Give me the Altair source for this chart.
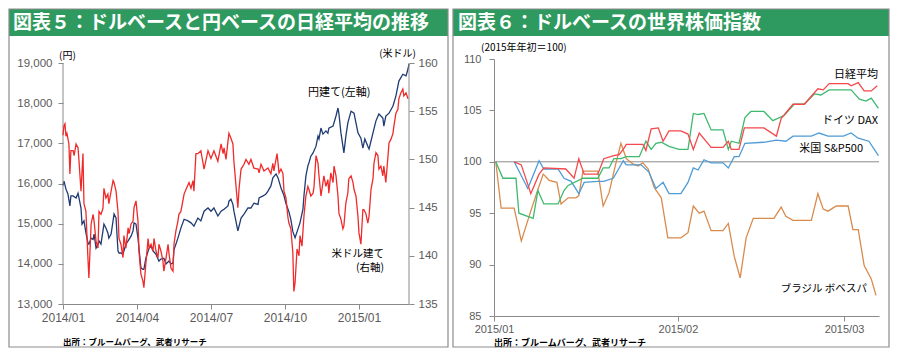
import altair as alt
import pandas as pd

# ---------------- Left panel (図表5) : x = months since 2014/01 ----------------
yen_month = [0, .04, .12, .20, .28, .32, .41, .53, .61, .73,
             .77, .85, .93, 1.01, 1.05, 1.14, 1.22, 1.26, 1.34, 1.42,
             1.46, 1.54, 1.62, 1.66, 1.74, 1.82, 1.86, 1.95, 2.03, 2.07,
             2.15, 2.23, 2.27, 2.35, 2.43, 2.47, 2.55, 2.64, 2.76, 2.84,
             2.88, 2.96, 3.04, 3.16, 3.24, 3.28, 3.36, 3.49, 3.57, 3.65,
             3.77, 3.89, 3.97, 4.09, 4.18, 4.30, 4.38, 4.46, 4.50, 4.66,
             4.78, 4.91, 5.07, 5.19, 5.31, 5.47, 5.59, 5.72, 5.88, 6.00,
             6.12, 6.28, 6.41, 6.53, 6.69, 6.73, 6.81, 6.89, 6.93, 7.01,
             7.09, 7.14, 7.22, 7.34, 7.50, 7.62, 7.74, 7.91, 7.95, 8.11,
             8.23, 8.31, 8.43, 8.51, 8.64, 8.72, 8.84, 8.96, 9.04, 9.16,
             9.24, 9.32, 9.41, 9.53, 9.61, 9.73, 9.77, 9.85, 9.93, 9.97,
             10.05, 10.14, 10.26, 10.34, 10.38, 10.46, 10.54, 10.66, 10.74, 10.78,
             10.95, 11.07, 11.15, 11.19, 11.27, 11.35, 11.39, 11.47, 11.55, 11.68,
             11.80, 11.88, 11.96, 12.08, 12.16, 12.24, 12.36, 12.41, 12.57, 12.69,
             12.81, 12.97, 13.01, 13.09, 13.22, 13.38, 13.50, 13.62, 13.78, 13.91,
             13.99, 14.03]
yen_value = [15950, 16060, 15860, 15740, 15440, 15690, 15690, 15640, 15760, 15390,
             14990, 15070, 14770, 14520, 14490, 14640, 14610, 14740, 14390, 14490,
             14570, 14490, 14820, 14990, 14890, 14770, 14640, 14740, 15070, 15240,
             15140, 14320, 14270, 14270, 14240, 14320, 14490, 14570, 14690, 14820,
             15020, 14990, 14640, 13900, 13860, 13860, 14140, 14390, 14440, 14320,
             14240, 14070, 14120, 14140, 14000, 14070, 14000, 14020, 14350, 14640,
             14890, 15110, 15070, 15020, 14940, 15140, 15070, 15310, 15390, 15310,
             15390, 15190, 15310, 15360, 15440, 15560, 15610, 15480, 15310, 15070,
             14820, 14940, 15140, 15240, 15390, 15390, 15510, 15480, 15640, 15690,
             15740, 15810, 15940, 16140, 16240, 16140, 15890, 15700, 15500, 15300,
             15100, 14800, 14650, 14870, 15020, 15360, 15690, 16190, 16440, 16510,
             16680, 16760, 16930, 17180, 17110, 17380, 17230, 17310, 17250, 17380,
             17430, 17680, 17880, 17730, 17260, 16930, 16760, 17180, 17510, 17800,
             17750, 17510, 17260, 17130, 16880, 17110, 16930, 16860, 17260, 17560,
             17730, 17630, 17430, 17680, 17750, 17930, 18180, 18550, 18720, 18680,
             18850, 18980]

usd_month = [0, .04, .08, .12, .16, .24, .28, .32, .41, .45,
             .53, .61, .65, .73, .81, .85, .93, 1.01, 1.05, 1.09,
             1.14, 1.22, 1.26, 1.34, 1.42, 1.46, 1.54, 1.62, 1.66, 1.74,
             1.82, 1.86, 1.95, 2.03, 2.07, 2.15, 2.23, 2.27, 2.35, 2.43,
             2.47, 2.55, 2.64, 2.68, 2.76, 2.84, 2.88, 2.96, 3.04, 3.08,
             3.16, 3.24, 3.28, 3.36, 3.45, 3.49, 3.57, 3.65, 3.69, 3.77,
             3.85, 3.89, 3.97, 4.05, 4.09, 4.18, 4.26, 4.30, 4.38, 4.46,
             4.50, 4.58, 4.66, 4.70, 4.78, 4.91, 4.99, 5.11, 5.19, 5.27,
             5.31, 5.39, 5.47, 5.59, 5.72, 5.88, 6.00, 6.12, 6.28, 6.41,
             6.49, 6.53, 6.61, 6.69, 6.73, 6.81, 6.89, 6.93, 7.01, 7.09,
             7.14, 7.22, 7.34, 7.42, 7.54, 7.62, 7.74, 7.91, 7.95, 8.03,
             8.15, 8.31, 8.43, 8.51, 8.55, 8.68, 8.76, 8.84, 8.92, 8.96,
             9.04, 9.12, 9.16, 9.24, 9.32, 9.36, 9.41, 9.49, 9.57, 9.61,
             9.69, 9.77, 9.85, 9.93, 9.97, 10.05, 10.14, 10.18, 10.26, 10.34,
             10.38, 10.46, 10.54, 10.58, 10.66, 10.74, 10.78, 10.86, 10.95, 10.99,
             11.07, 11.15, 11.19, 11.27, 11.35, 11.39, 11.47, 11.55, 11.59, 11.68,
             11.76, 11.80, 11.88, 11.96, 12.00, 12.08, 12.16, 12.20, 12.28, 12.36,
             12.41, 12.49, 12.57, 12.61, 12.69, 12.77, 12.81, 12.89, 12.97, 13.01,
             13.09, 13.18, 13.22, 13.30, 13.38, 13.42, 13.50, 13.58, 13.62, 13.70,
             13.78, 13.82, 13.91, 13.99]
usd_value = [152.5, 153.5, 153.7, 152.4, 152.7, 151.6, 148.5, 150.9, 150.9, 150.4,
             151.6, 151.2, 149.8, 146.7, 150.6, 145.4, 144.6, 139.8, 137.7, 140.2,
             143.3, 144.3, 143.6, 141.5, 140.8, 144.6, 144.3, 144.9, 147.0, 146.0,
             146.4, 145.4, 146.7, 147.8, 147.6, 146.7, 144.6, 141.8, 141.2, 139.8,
             142.1, 140.8, 142.9, 142.3, 143.3, 143.6, 145.0, 145.7, 143.6, 140.5,
             138.1, 137.4, 136.7, 139.2, 141.8, 140.8, 141.2, 140.5, 141.8, 140.5,
             139.8, 141.2, 140.5, 139.5, 138.4, 139.8, 141.2, 140.2, 138.7, 138.4,
             141.2, 142.6, 143.6, 144.3, 144.6, 146.4, 146.9, 147.6, 147.0, 147.8,
             146.7, 150.6, 150.6, 150.9, 149.0, 150.9, 150.1, 150.9, 149.8, 151.6,
             150.6, 151.2, 150.0, 151.9, 152.7, 152.2, 151.6, 149.8, 147.4, 145.0,
             147.0, 149.0, 149.5, 150.0, 149.5, 150.0, 149.1, 149.0, 148.6, 149.5,
             148.8, 149.1, 148.5, 149.6, 148.8, 150.6, 148.6, 149.0, 148.5, 146.7,
             146.0, 144.0, 143.4, 142.8, 140.3, 136.3, 137.2, 140.7, 140.0, 142.1,
             141.0, 144.1, 146.2, 147.2, 146.9, 146.2, 146.5, 147.2, 150.4, 149.6,
             148.3, 146.2, 147.6, 148.3, 147.2, 147.9, 146.5, 148.6, 147.6, 149.3,
             148.3, 146.2, 144.4, 143.8, 142.8, 143.1, 145.5, 146.5, 148.0, 148.3,
             147.6, 146.9, 146.2, 144.1, 142.4, 141.2, 144.8, 144.8, 144.4, 143.4,
             144.1, 146.9, 148.0, 149.6, 150.7, 150.4, 149.0, 149.3, 148.3, 149.3,
             147.6, 150.4, 151.7, 152.1, 152.7, 153.5, 154.8, 155.2, 156.3, 156.9,
             157.3, 156.6, 156.9, 156.3]

left_x_end = 14.03
left_tick_pos = [0, 3, 6, 9, 12]
left_tick_labels = ["2014/01", "2014/04", "2014/07", "2014/10", "2015/01"]
yen_ticks = [13000, 14000, 15000, 16000, 17000, 18000, 19000]
usd_ticks = [135, 140, 145, 150, 155, 160]

# ---------------- Right panel (図表6) : x = days since 2015/01/01 ----------------
nikkei_day = [3.4, 4.6, 5.7, 6.2, 7.6, 8.4, 12.1, 13.5, 14.3, 15.2,
              17.5, 18.5, 20.2, 21.1, 21.9, 22.3, 25.1, 25.6, 26.5, 27.7,
              28.5, 29.5, 31.5, 32.7, 33.6, 34.6, 36.6, 38.6, 39.5, 40.0,
              41.3, 42.2, 45.5, 47.6, 48.4, 50.4, 52.3, 54.6, 55.5, 56.5, 59.7,
              60.2, 61.4, 62.4, 63.6, 64.6]
nikkei_val = [100.0, 99.7, 97.8, 96.9, 98.8, 99.4, 99.3, 98.4, 100.3, 98.8,
              98.8, 100.3, 100.6, 100.7, 101.3, 101.7, 101.7, 101.1, 103.2, 103.3,
              102.0, 103.0, 103.0, 102.7, 101.2, 102.8, 101.4, 101.4, 102.0, 101.2,
              101.2, 103.3, 103.3, 102.5, 104.2, 105.6, 105.6, 107.1, 107.0, 107.6, 107.6,
              107.4, 107.7, 106.9, 106.9, 107.4]
dax_day = [0.3, 1.5, 3.7, 4.2, 6.6, 7.4, 8.4, 10.8, 11.8, 12.5,
           15.0, 17.5, 18.4, 19.4, 20.2, 21.4, 22.3, 24.5, 25.6, 26.5,
           27.3, 28.2, 29.5, 31.2, 32.7, 33.6, 34.4, 35.4, 36.6, 38.6,
           39.5, 40.0, 41.3, 42.3, 43.3, 45.5, 47.0, 48.9, 50.6, 52.3,
           54.0, 55.1, 56.5, 60.2, 61.6, 62.7, 63.6, 64.8]
dax_val = [100.0, 98.4, 98.4, 95.0, 94.5, 97.2, 95.9, 95.9, 97.2, 97.7,
           98.4, 98.4, 99.4, 99.4, 100.3, 100.3, 100.5, 100.5, 102.0, 101.2,
           101.8, 101.9, 101.5, 101.2, 101.2, 104.7, 104.6, 104.7, 103.1, 103.1,
           101.2, 102.0, 101.8, 104.3, 104.9, 104.9, 104.0, 104.5, 105.6, 105.6,
           106.6, 106.5, 107.0, 107.0, 106.1, 105.9, 106.2, 105.2]
sp_day = [3.4, 4.2, 5.7, 7.6, 8.4, 10.8, 11.8, 13.0, 14.3, 15.2,
          17.5, 18.5, 20.1, 21.1, 21.8, 22.3, 24.8, 26.1, 27.3, 28.5,
          29.5, 31.5, 32.7, 33.6, 34.4, 35.4, 36.6, 38.6, 39.5, 40.5,
          41.3, 42.3, 45.5, 47.6, 49.2, 50.4, 53.5, 54.8, 56.3, 58.9,
          60.2, 61.4, 63.2, 64.8]
sp_val = [100.0, 99.1, 97.4, 100.1, 99.3, 99.3, 98.4, 98.1, 96.9, 98.0,
          98.1, 98.1, 98.4, 99.4, 100.1, 99.7, 99.7, 99.0, 97.4, 98.0,
          96.9, 96.9, 98.0, 99.4, 99.2, 100.2, 99.9, 99.9, 99.4, 100.5,
          100.5, 101.8, 101.9, 102.1, 102.0, 102.5, 102.5, 102.8, 102.5, 102.5,
          102.8, 102.3, 102.0, 100.6]
bov_day = [0.3, 1.2, 3.4, 4.6, 6.2, 7.4, 8.3, 9.3, 10.6, 11.3,
           12.5, 13.8, 14.3, 15.0, 17.5, 18.4, 19.4, 20.6, 21.4, 22.3,
           23.4, 24.3, 25.1, 26.0, 27.0, 28.2, 29.3, 31.5, 32.7, 33.6,
           34.6, 35.4, 36.6, 38.6, 39.5, 40.5, 41.5, 42.5, 43.7, 47.2,
           48.4, 49.2, 50.4, 53.5, 54.6, 55.5, 56.3, 57.7, 59.7, 60.5,
           61.4, 62.4, 63.6, 64.4]
bov_val = [100.0, 95.5, 95.5, 92.3, 95.2, 97.3, 98.8, 98.2, 98.0, 95.9,
           96.5, 96.5, 96.7, 99.1, 99.1, 95.7, 97.0, 100.0, 101.8, 100.3,
           99.8, 99.6, 99.9, 99.3, 97.5, 96.5, 92.6, 92.6, 93.1, 95.7,
           95.0, 95.2, 93.3, 93.3, 94.0, 90.8, 88.7, 92.6, 94.5, 94.5,
           95.6, 94.7, 94.3, 94.3, 96.9, 95.4, 95.2, 95.7, 95.7, 93.4,
           93.4, 89.9, 88.6, 87.0]

right_x_end = 64.9
right_tick_pos = [0, 31, 59]
right_tick_labels = ["2015/01", "2015/02", "2015/03"]
right_y_ticks = [85, 90, 95, 100, 105, 110]

# ---------------- styling ----------------
JP = "Noto Sans CJK JP"
LAT = "Liberation Sans"
AXIS_C = "#8a8a8a"
LABEL_C = "#5a5a5a"
GREEN = "#2f9a5f"
FRAME_C = "#8c8c8c"

W_L, H_L = 346, 245
W_R, H_R = 385, 257
TOP_GAP = 4
yen_top = yen_ticks[-1] + (yen_ticks[-1] - yen_ticks[0]) * TOP_GAP / (H_L - TOP_GAP)
usd_top = usd_ticks[-1] + (usd_ticks[-1] - usd_ticks[0]) * TOP_GAP / (H_L - TOP_GAP)

one = pd.DataFrame({"k": [0]})


def box(x0, x1, y0, y1, **kw):
    return alt.Chart(one).mark_rect(**kw).encode(
        x=alt.value(x0), x2=alt.value(x1), y=alt.value(y0), y2=alt.value(y1))


def txt(s, x, y, size=11, align="left", weight="normal", color="#000000", font=JP):
    return alt.Chart(one).mark_text(
        text=s, align=align, baseline="middle", fontSize=size,
        fontWeight=weight, color=color, font=font).encode(x=alt.value(x), y=alt.value(y))


def label_expr(vals, labels):
    expr = "''"
    for v, l in reversed(list(zip(vals, labels))):
        expr = f"datum.value == {v} ? '{l}' : ({expr})"
    return expr


# ---------------- left panel ----------------
x_left = alt.X("m:Q", scale=alt.Scale(domain=[0, left_x_end], nice=False, zero=False),
               axis=alt.Axis(values=left_tick_pos, labelExpr=label_expr(left_tick_pos, left_tick_labels),
                             title=None, labelFontSize=12, labelPadding=3, labelFlush=False))

yen_scale = alt.Scale(domain=[yen_ticks[0], yen_top], nice=False, zero=False)
yen_axis = alt.Axis(values=yen_ticks, labelExpr="format(datum.value, ',')", domain=False, title=None,
                    orient="left", labelFontSize=11.5, labelPadding=6)
usd_scale = alt.Scale(domain=[usd_ticks[0], usd_top], nice=False, zero=False)
usd_axis = alt.Axis(values=usd_ticks, labelExpr="format(datum.value, 'd')", domain=False, title=None,
                    orient="right", labelFontSize=11.5, labelPadding=4)

yen_line = alt.Chart(pd.DataFrame({"m": yen_month, "v": yen_value})).mark_line(
    color="#1f3b73", strokeWidth=1.3).encode(
    x=x_left, y=alt.Y("v:Q", scale=yen_scale, axis=yen_axis))
yen_rule = alt.Chart(one).mark_rule(color=AXIS_C, strokeWidth=1).encode(
    x=alt.value(0), y=alt.YDatum(yen_ticks[0], scale=yen_scale, axis=yen_axis),
    y2=alt.Y2Datum(yen_ticks[-1]))

usd_line = alt.Chart(pd.DataFrame({"m": usd_month, "v": usd_value})).mark_line(
    color="#f02a2a", strokeWidth=1.3).encode(
    x=x_left, y=alt.Y("v:Q", scale=usd_scale, axis=usd_axis))
usd_rule = alt.Chart(one).mark_rule(color=AXIS_C, strokeWidth=1).encode(
    x=alt.value(W_L), y=alt.YDatum(usd_ticks[0], scale=usd_scale, axis=usd_axis),
    y2=alt.Y2Datum(usd_ticks[-1]))

left = alt.layer(
    box(-54, 385, -50, -23, color=GREEN),
    txt("図表５：ドルベースと円ベースの日経平均の推移", -50, -36.5, size=19, weight="bold", color="white"),
    alt.layer(yen_line, yen_rule),
    alt.layer(usd_line, usd_rule),
    txt("(円)", -4, -3, size=10),
    txt("(米ドル)", 353, -5, size=10, align="right"),
    txt("円建て(左軸)", 245, 34, size=11),
    txt("米ドル建て", 321, 195, size=10.5, align="right"),
    txt("(右軸)", 321, 209, size=10.5, align="right"),
    txt("出所：ブルームバーグ、武者リサーチ", 0, 283, size=8.5, weight="bold"),
    box(-54, 385, -50, 288, fill="white", fillOpacity=0, stroke=FRAME_C, strokeWidth=1.2),
).resolve_scale(y="independent").properties(width=W_L, height=H_L)

# ---------------- right panel ----------------
x_right = alt.X("d:Q", scale=alt.Scale(domain=[0, right_x_end], nice=False, zero=False),
                axis=alt.Axis(values=right_tick_pos, labelExpr=label_expr(right_tick_pos, right_tick_labels),
                              title=None, labelFontSize=11, labelPadding=2, labelFlush=False))
r_scale = alt.Scale(domain=[right_y_ticks[0], right_y_ticks[-1]], nice=False, zero=False)
r_axis = alt.Axis(values=right_y_ticks, labelExpr="format(datum.value, 'd')", title=None,
                  labelFontSize=11, labelPadding=8)
y_right = alt.Y("v:Q", scale=r_scale, axis=r_axis)


def series_line(days, vals, color):
    return alt.Chart(pd.DataFrame({"d": days, "v": vals})).mark_line(
        color=color, strokeWidth=1.3).encode(x=x_right, y=y_right)


base100 = alt.Chart(one).mark_rule(color=AXIS_C, strokeWidth=1).encode(
    y=alt.YDatum(100, scale=r_scale, axis=r_axis))

right = alt.layer(
    box(-41, 395, -50, -23, color=GREEN),
    txt("図表６：ドルベースの世界株価指数", -36, -36.5, size=19, weight="bold", color="white"),
    base100,
    series_line(bov_day, bov_val, "#d98b4e"),
    series_line(sp_day, sp_val, "#4e9bd6"),
    series_line(dax_day, dax_val, "#3dba6f"),
    series_line(nikkei_day, nikkei_val, "#f4484a"),
    txt("(2015年年初＝100)", -13, -11, size=10),
    txt("日経平均", 384, 16, size=11, align="right"),
    txt("ドイツ DAX", 384, 62, size=11, align="right"),
    txt("米国 S&P500", 369, 90, size=11, align="right"),
    txt("ブラジル ボベスパ", 373, 230, size=10.5, align="right"),
    txt("出所：ブルームバーグ、武者リサーチ", 0, 284, size=9, weight="bold"),
    box(-41, 395, -50, 288, fill="white", fillOpacity=0, stroke=FRAME_C, strokeWidth=1.2),
).properties(width=W_R, height=H_R)

chart = alt.hconcat(left, right, spacing=85, bounds="flush", padding=0).configure_view(
    strokeWidth=0).configure_axis(
    grid=False, domainColor=AXIS_C, tickColor=AXIS_C, labelColor=LABEL_C, labelFont=LAT,
    tickSize=5, domainWidth=1, tickWidth=1)

chart.save("out.html", embed_options={"renderer": "svg", "actions": False})
